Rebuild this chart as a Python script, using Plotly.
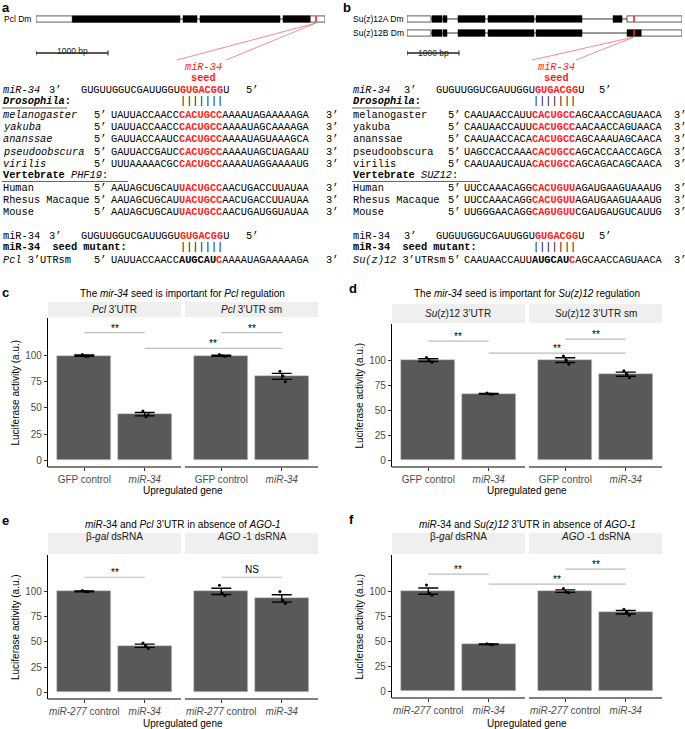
import numpy as np
import plotly.graph_objects as go

W, H = 685, 729
SANS = "Liberation Sans, Arial, sans-serif"
MONO = "Liberation Mono, Courier New, monospace"
RED = "#ff1a1a"
BAR = "#595959"
TICK = "#4d4d4d"

# ---------------- gene models (bp) ----------------
PCL_LEN = 4014
PCL_UTR = [(0, 505), (3806, 4014)]
PCL_CDS = [(505, 2000), (2042, 2236), (2278, 3389), (3431, 3806)]
PCL_SITE = 3889

SUZ_LEN = 5288
SUZ_A_UTR = [(0, 462), (4231, 5288)]
SUZ_A_CDS = [(481, 673), (692, 769), (981, 1500), (1558, 2442), (2481, 3365), (3962, 4135)]
SUZ_B_UTR = [(0, 462), (4500, 5288)]
SUZ_B_CDS = [(481, 673), (692, 769), (981, 1500), (1558, 2442), (2481, 3365), (4231, 4500)]
SUZ_SITE = 4365
SCALE_BP = 1000

# ---------------- alignments ----------------
MIR34 = ("GUGUUGGUCGAUUGGU", "GUGACGG", "U")
FLY_SPECIES = ["melanogaster", "yakuba", "ananssae", "pseudoobscura", "virilis"]
VERT_SPECIES = ["Human", "Rhesus Macaque", "Mouse"]
PCL_FLY = [
    ("UAUUACCAACC", "CACUGCC", "AAAAUAGAAAAAGA"),
    ("UAUUACCAACC", "CACUGCC", "AAAAUAGCAAAAGA"),
    ("GAUUACCAAUC", "CACUGCC", "AAAAUAGUAAAGCA"),
    ("GAUUACCGAUC", "CACUGCC", "AAAAUAGCUAGAAU"),
    ("UUUAAAAACGC", "CACUGCC", "AAAAUAGGAAAAUG"),
]
PCL_VERT = [
    ("AAUAGCUGCAU", "UACUGCC", "AACUGACCUUAUAA"),
    ("AAUAGCUGCAU", "UACUGCC", "AACUGACCUUAUAA"),
    ("AAUAGCUGCAU", "UACUGCC", "AACUGAUGGUAUAA"),
]
PCL_MUT = ("UAUUACCAACC", "AUGCAU", "C", "AAAAUAGAAAAAGA")
SUZ_FLY = [
    ("CAAUAACCAUU", "CACUGCC", "AGCAACCAGUAACA"),
    ("CAAUAACCAUU", "CACUGCC", "AACAACCAGUAACA"),
    ("CAAUAACCACA", "CACUGCC", "AGCAAAUAGCAACA"),
    ("UAGCCACCAAA", "CACUGCC", "AGCACCAACCAGCA"),
    ("CAAUAAUCAUA", "CACUGCC", "AGCAGACAGCAACA"),
]
SUZ_VERT = [
    ("UUCCAAACAGG", "CACUGUU", "AGAUGAAGUAAAUG"),
    ("UUCCAAACAGG", "CACUGUU", "AGAUGAAGUAAAUG"),
    ("UUGGGAACAGG", "CAGUGUU", "CGAUGAUGUCAUUG"),
]
SUZ_MUT = ("CAAUAACCAUU", "AUGCAU", "C", "AGCAACCAGUAACA")

# ---------------- luciferase assays (replicates, a.u.) ----------------
GFP_GENES = ["GFP control", "<i>miR-34</i>"]
AGO_GENES = ["<i>miR-277</i> control", "<i>miR-34</i>"]

C_FACETS = ["<i>Pcl</i> 3’UTR", "<i>Pcl</i> 3’UTR sm"]
C_REPS = [[101.2, 99.5, 99.3], [47.0, 41.5, 43.5], [101.0, 99.8, 99.2], [85.0, 80.5, 75.0]]
C_SIG = [(0, 1, 122, "**"), (1, 3, 107, "**"), (2, 3, 122, "**")]

D_FACETS = ["<i>Su</i>(z)12 3’UTR", "<i>Su</i>(z)12 3’UTR sm"]
D_REPS = [[102.5, 99.5, 98.0], [67.2, 66.3, 66.0], [104.0, 100.0, 96.0], [89.5, 86.0, 82.5]]
D_SIG = [(0, 1, 119, "**"), (1, 3, 107, "**"), (2, 3, 121, "**")]

E_FACETS = ["β-<i>gal</i> dsRNA", "<i>AGO</i> -1 dsRNA"]
E_REPS = [[100.8, 99.6, 99.6], [49.0, 46.0, 43.5], [106.0, 98.0, 96.0], [100.0, 91.0, 88.0]]
E_SIG = [(0, 1, 114, "**"), (2, 3, 114, "NS")]

F_FACETS = ["β-<i>gal</i> dsRNA", "<i>AGO</i> -1 dsRNA"]
F_REPS = [[106.0, 98.0, 96.0], [47.5, 47.0, 46.5], [102.5, 99.0, 98.5], [82.0, 79.0, 76.0]]
F_SIG = [(0, 1, 117, "**"), (1, 3, 107, "**"), (2, 3, 122, "**")]

Y_RANGE = [-6.5, 136]
Y_TICKS = [0, 25, 50, 75, 100]
SPAN, GAP = 2.2, 0.066
JITTER = [-0.03, 0.02, 0.06]


def px_x(p):
    return p / W


def px_y(p):
    return 1 - p / H


fig = go.Figure()


def note(x, y, s, size=10.3, family=MONO, color="black", anchor="left", **kw):
    fig.add_annotation(x=px_x(x), y=px_y(y), xref="paper", yref="paper", text=s,
                       showarrow=False, xanchor=anchor, yanchor="middle", borderpad=0,
                       font=dict(family=family, size=size, color=color), **kw)


def hline_px(x0, x1, y, color="black", width=1.0):
    fig.add_shape(type="line", xref="paper", yref="paper", x0=px_x(x0), x1=px_x(x1),
                  y0=px_y(y), y1=px_y(y), line=dict(color=color, width=width))


def red(s):
    return f"<span style='color:{RED}'><b>{s}</b></span>"


# ---------------- gene diagrams ----------------
def gene_track(ax, row, length, utrs, cds, site):
    kw = dict(xref=ax[0], yref=ax[1])
    fig.add_shape(type="line", x0=0, x1=length, y0=row, y1=row,
                  line=dict(color="#333333", width=1), **kw)
    for s, e in utrs:
        fig.add_shape(type="rect", x0=s, x1=e, y0=row - 0.22, y1=row + 0.22,
                      fillcolor="white", line=dict(color="#333333", width=0.8), **kw)
    for s, e in cds:
        fig.add_shape(type="rect", x0=s, x1=e, y0=row - 0.24, y1=row + 0.24,
                      fillcolor="black", line=dict(color="black", width=0.5), **kw)
    fig.add_shape(type="line", x0=site, x1=site, y0=row - 0.22, y1=row + 0.22,
                  line=dict(color=RED, width=1.6), **kw)


def scale_bar(ax, y, text_y):
    fig.add_shape(type="line", xref=ax, yref="paper", x0=0, x1=SCALE_BP,
                  y0=px_y(y), y1=px_y(y), line=dict(color="#222222", width=1.3))
    for xb in (0, SCALE_BP):
        fig.add_shape(type="line", xref=ax, yref="paper", x0=xb, x1=xb,
                      y0=px_y(y - 2.5), y1=px_y(y + 2.5), line=dict(color="#222222", width=1))
    fig.add_annotation(x=SCALE_BP / 2, y=px_y(text_y), xref=ax, yref="paper",
                       text=f"{SCALE_BP} bp", showarrow=False,
                       font=dict(family=SANS, size=8.5, color="#222222"))


fig.update_layout(
    xaxis5=dict(domain=[px_x(36), px_x(325)], range=[0, PCL_LEN], visible=False, anchor="y5"),
    yaxis5=dict(domain=[px_y(28), px_y(10)], range=[-0.64, 0.64], visible=False, anchor="x5"),
    xaxis6=dict(domain=[px_x(407), px_x(682)], range=[0, SUZ_LEN], visible=False, anchor="y6"),
    yaxis6=dict(domain=[px_y(42), px_y(10)], range=[-1.64, 0.64], visible=False, anchor="x6"),
)
gene_track(("x5", "y5"), 0, PCL_LEN, PCL_UTR, PCL_CDS, PCL_SITE)
gene_track(("x6", "y6"), 0, SUZ_LEN, SUZ_A_UTR, SUZ_A_CDS, SUZ_SITE)
gene_track(("x6", "y6"), -1, SUZ_LEN, SUZ_B_UTR, SUZ_B_CDS, SUZ_SITE)
scale_bar("x5", 53, 44)
scale_bar("x6", 53, 46)
note(3, 19, "Pcl Dm", size=8.5, family=SANS)
note(405, 19, "Su(z)12A Dm", size=8.5, family=SANS, anchor="right")
note(405, 33, "Su(z)12B Dm", size=8.5, family=SANS, anchor="right")


def bp_px(bp, left, right, length):
    return left + bp / length * (right - left)


for sx, sy, tx in [(bp_px(PCL_SITE, 36, 325, PCL_LEN), 23, (177, 226)),
                   (bp_px(SUZ_SITE, 407, 682, SUZ_LEN), 37, (532, 576))]:
    for t in tx:
        fig.add_shape(type="line", xref="paper", yref="paper", x0=px_x(sx), y0=px_y(sy),
                      x1=px_x(t), y1=px_y(60), line=dict(color="#f27070", width=0.8))

# ---------------- alignment text ----------------
ROW_MIR, ROW_HDR, ROW_FLY0, STEP = 90, 101, 115, 12.25
ROW_VHDR, ROW_V0 = 175, 187.5
ROW_MIR2, ROW_MHDR, ROW_MUT = 236, 247.5, 260


def alignment(c, fly, vert, fly_italic, vert_gene, mut, mut_label, ul_fly, ul_vert):
    # c: column positions
    note(c["seed"] + 24, 67, "<i>miR-34</i>", color=RED, anchor="center")
    note(c["seed"] + 24, 78, "<b>seed</b>", color=RED, anchor="center")
    for row, name in [(ROW_MIR, "<i>miR-34</i>"), (ROW_MIR2, "miR-34")]:
        note(c["name"], row, name)
        note(c["m3"], row, "3’")
        note(c["mseq"], row, MIR34[0] + red(MIR34[1]) + MIR34[2])
        note(c["m5"], row, "5’")
    note(c["seed"], ROW_MIR + 11, "|||||||")
    note(c["seed"], ROW_MHDR, "|||||||")
    note(c["name"], ROW_HDR, "<b><i>Drosophila</i>:</b>")
    hline_px(c["name"], ul_fly, ROW_HDR + 7, color="#666666", width=1.2)
    for i, (sp, seq) in enumerate(zip(FLY_SPECIES, fly)):
        y = ROW_FLY0 + i * STEP
        note(c["name"], y, f"<i>{sp}</i>" if fly_italic else sp)
        note(c["f5"], y, "5’")
        note(c["seq"], y, seq[0] + red(seq[1]) + seq[2])
        note(c["f3"], y, "3’")
    note(c["name"], ROW_VHDR, f"<b>Vertebrate</b> <i>{vert_gene}</i>:")
    hline_px(c["name"], ul_vert, ROW_VHDR + 6.5, color="#666666", width=1.2)
    for i, (sp, seq) in enumerate(zip(VERT_SPECIES, vert)):
        y = ROW_V0 + i * STEP
        note(c["name"], y, sp)
        note(c["f5"], y, "5’")
        note(c["seq"], y, seq[0] + red(seq[1]) + seq[2])
        note(c["f3"], y, "3’")
    note(c["name"], ROW_MHDR, "<b>miR-34  seed mutant:</b>")
    note(c["name"], ROW_MUT, mut_label)
    note(c["f5"], ROW_MUT, "5’")
    note(c["seq"], ROW_MUT, mut[0] + f"<b>{mut[1]}</b>" + red(mut[2]) + mut[3])
    note(c["f3"], ROW_MUT, "3’")


alignment(dict(name=2, m3=48, mseq=80, m5=245, seed=179, f5=93, seq=110, f3=325),
          PCL_FLY, PCL_VERT, True, "PHF19", PCL_MUT, "<i>Pcl</i> 3’UTRsm", 67, 128)
alignment(dict(name=352, m3=403, mseq=435, m5=598, seed=532, f5=447, seq=463, f3=673),
          SUZ_FLY, SUZ_VERT, False, "SUZ12", SUZ_MUT, "<i>Su(z)12</i> 3’UTRsm", 420, 480)

note(1, 7, "<b>a</b>", size=13, family=SANS)
note(342, 7, "<b>b</b>", size=13, family=SANS)


# ---------------- bar panels ----------------
def bar_pos(i):
    facet, j = divmod(i, 2)
    return j + 1 + facet * (SPAN + GAP)


def bar_panel(n, letter, title, facets, genes, reps, sig, box):
    xr = "x" if n == 1 else f"x{n}"
    yr = "y" if n == 1 else f"y{n}"
    l, r, top, bot = box["l"], box["r"], box["top"], box["bot"]
    pos = [bar_pos(i) for i in range(len(reps))]
    means = [float(np.mean(v)) for v in reps]
    se = [float(np.std(v, ddof=1) / np.sqrt(len(v))) for v in reps]
    fig.add_trace(go.Bar(
        x=pos, y=means, width=0.9, xaxis=xr, yaxis=yr, hoverinfo="skip",
        marker=dict(color=BAR, line=dict(color="#cfcfcf", width=0.6)),
        error_y=dict(type="data", array=se, color="black", thickness=1.4, width=10),
    ))
    fig.add_trace(go.Scatter(
        x=[p + JITTER[k] for p, v in zip(pos, reps) for k in range(len(v))],
        y=[y for v in reps for y in v], mode="markers", xaxis=xr, yaxis=yr,
        marker=dict(color="black", size=3), hoverinfo="skip",
    ))
    fig.update_layout(**{
        ("xaxis" if n == 1 else f"xaxis{n}"): dict(
            domain=[px_x(l), px_x(r)], range=[0.4, 0.4 + 2 * SPAN + GAP], anchor=yr,
            tickvals=pos, ticktext=genes * 2, ticks="outside", ticklen=3, tickcolor="#333333",
            tickfont=dict(family=SANS, size=10, color=TICK), showline=False,
            showgrid=False, zeroline=False),
        ("yaxis" if n == 1 else f"yaxis{n}"): dict(
            domain=[px_y(bot), px_y(top)], range=Y_RANGE, anchor=xr, tickvals=Y_TICKS,
            ticks="outside", ticklen=3, tickcolor="#333333", showline=True,
            linecolor="black", linewidth=1.2, tickfont=dict(family=SANS, size=10, color=TICK),
            showgrid=False, zeroline=False),
    })
    for f, lab in enumerate(facets):
        x0 = 0.4 + f * (SPAN + GAP)
        fig.add_shape(type="line", xref=xr, yref=f"{yr} domain", x0=x0, x1=x0 + SPAN,
                      y0=0, y1=0, line=dict(color="black", width=1.2))
        fig.add_shape(type="rect", xref=xr, yref="paper", x0=x0, x1=x0 + SPAN,
                      y0=px_y(top - 1), y1=px_y(box["strip"]), fillcolor="#efefef", line_width=0)
        fig.add_annotation(x=x0 + SPAN / 2, y=px_y((top - 1 + box["strip"]) / 2), xref=xr,
                           yref="paper", text=lab, showarrow=False,
                           font=dict(family=SANS, size=10, color="#1a1a1a"))
    for a, b, lvl, lab in sig:
        fig.add_shape(type="line", xref=xr, yref=yr, x0=pos[a], x1=pos[b], y0=lvl, y1=lvl,
                      line=dict(color="#bdbdbd", width=1.2))
        fig.add_annotation(x=(pos[a] + pos[b]) / 2, y=lvl, xref=xr, yref=yr, text=lab,
                           showarrow=False, yanchor="bottom", yshift=-3 if lab == "**" else 0,
                           font=dict(family=SANS, size=10, color="black"))
    cx = (l + r) / 2
    note(cx, box["title"], title, size=10, family=SANS, anchor="center")
    note(cx, box["xlab"], "Upregulated gene", size=10, family=SANS, anchor="center")
    note(box["ylab"], (top + bot) / 2, "Luciferase activity (a.u.)", size=10, family=SANS,
         anchor="center", textangle=-90)
    note(box["lx"], box["ly"], f"<b>{letter}</b>", size=13, family=SANS)


bar_panel(1, "c", "The <i>mir-34</i> seed is important for <i>Pcl</i> regulation",
          C_FACETS, GFP_GENES, C_REPS, C_SIG,
          dict(l=48, r=318, top=318, bot=467, strip=302, title=294, xlab=490, ylab=15, lx=1, ly=292))
bar_panel(2, "d", "The <i>mir-34</i> seed is important for <i>Su(z)12</i> regulation",
          D_FACETS, GFP_GENES, D_REPS, D_SIG,
          dict(l=392, r=662, top=324, bot=467, strip=304, title=294, xlab=490, ylab=359, lx=348, ly=289))
bar_panel(3, "e", "<i>miR</i>-34 and <i>Pcl</i> 3’UTR in absence of <i>AGO-1</i>",
          E_FACETS, AGO_GENES, E_REPS, E_SIG,
          dict(l=48, r=318, top=555, bot=699, strip=533, title=524, xlab=723, ylab=15, lx=1, ly=520))
bar_panel(4, "f", "<i>miR</i>-34 and <i>Su(z)12</i> 3’UTR in absence of <i>AGO-1</i>",
          F_FACETS, AGO_GENES, F_REPS, F_SIG,
          dict(l=392, r=662, top=555, bot=698, strip=533, title=524, xlab=723, ylab=359, lx=348, ly=519))

fig.update_layout(
    width=W, height=H, margin=dict(l=0, r=0, t=0, b=0),
    paper_bgcolor="white", plot_bgcolor="white", showlegend=False, bargap=0,
    font=dict(family=SANS, size=10, color="black"),
)
fig.write_html("out.html", config={"displayModeBar": False},
               post_script="document.body.style.margin='0';")
